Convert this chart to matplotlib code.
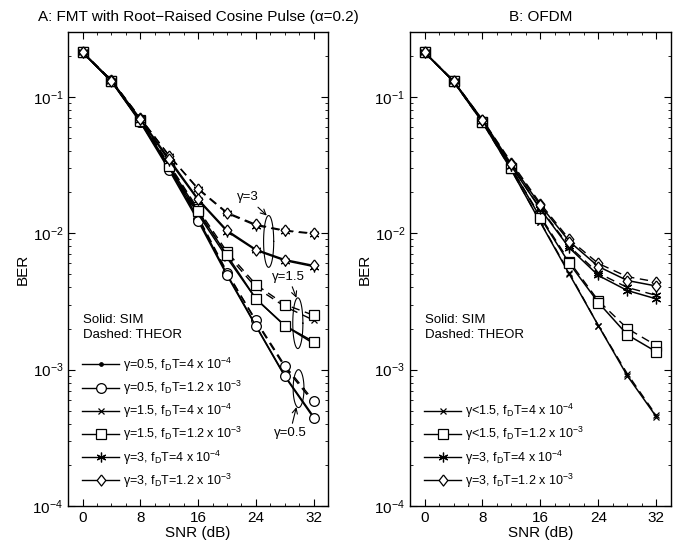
import numpy as np
import matplotlib
matplotlib.use('Agg')
import matplotlib.pyplot as plt
from matplotlib.lines import Line2D
from matplotlib.ticker import MultipleLocator

plt.rcParams['font.family'] = ['Liberation Sans', 'DejaVu Sans']
plt.rcParams['mathtext.fontset'] = 'custom'
plt.rcParams['mathtext.rm'] = 'Liberation Sans'
plt.rcParams['mathtext.it'] = 'Liberation Sans:italic'

snr = [0, 4, 8, 12, 16, 20, 24, 28, 32]

# A: FMT  (sim = solid, thr = dashed)
fmt_g05_a_sim = [0.213, 0.130, 0.066, 0.030, 0.0128, 0.0050, 0.00210, 0.00090, 0.00045]
fmt_g05_a_thr = [0.213, 0.131, 0.067, 0.031, 0.0132, 0.0052, 0.00225, 0.00104, 0.00057]
fmt_g05_b_sim = [0.213, 0.130, 0.065, 0.029, 0.0123, 0.0049, 0.00208, 0.00089, 0.00044]
fmt_g05_b_thr = [0.213, 0.131, 0.066, 0.030, 0.0128, 0.0051, 0.00230, 0.00107, 0.00059]
fmt_g15_a_sim = [0.213, 0.131, 0.066, 0.030, 0.0138, 0.0066, 0.0033, 0.0021, 0.00155]
fmt_g15_a_thr = [0.213, 0.131, 0.067, 0.031, 0.0142, 0.0070, 0.0040, 0.0029, 0.0023]
fmt_g15_b_sim = [0.213, 0.131, 0.067, 0.031, 0.0145, 0.0069, 0.0033, 0.0021, 0.0016]
fmt_g15_b_thr = [0.213, 0.132, 0.068, 0.032, 0.0150, 0.0073, 0.0042, 0.0030, 0.0025]
fmt_g3_a_sim = [0.213, 0.131, 0.068, 0.034, 0.0175, 0.0103, 0.0075, 0.0063, 0.0057]
fmt_g3_a_thr = [0.213, 0.132, 0.070, 0.037, 0.0210, 0.0140, 0.0114, 0.0104, 0.0099]
fmt_g3_b_sim = [0.213, 0.132, 0.069, 0.035, 0.0178, 0.0105, 0.0076, 0.0064, 0.0058]
fmt_g3_b_thr = [0.213, 0.133, 0.070, 0.037, 0.0213, 0.0142, 0.0116, 0.0105, 0.0100]

# B: OFDM
ofdm_g15_a_sim = [0.213, 0.130, 0.065, 0.029, 0.0120, 0.0050, 0.0021, 0.00090, 0.00045]
ofdm_g15_a_thr = [0.213, 0.130, 0.065, 0.029, 0.0121, 0.0051, 0.0021, 0.00093, 0.00046]
ofdm_g15_b_sim = [0.213, 0.130, 0.066, 0.030, 0.0130, 0.0060, 0.0031, 0.0018, 0.00135]
ofdm_g15_b_thr = [0.213, 0.130, 0.066, 0.030, 0.0133, 0.0062, 0.0032, 0.0020, 0.0015]
ofdm_g3_a_sim = [0.213, 0.131, 0.067, 0.031, 0.0150, 0.0078, 0.0049, 0.0038, 0.0033]
ofdm_g3_a_thr = [0.213, 0.131, 0.067, 0.031, 0.0152, 0.0080, 0.0051, 0.0040, 0.0035]
ofdm_g3_b_sim = [0.213, 0.131, 0.068, 0.032, 0.0160, 0.0087, 0.0057, 0.0045, 0.0041]
ofdm_g3_b_thr = [0.213, 0.132, 0.068, 0.033, 0.0165, 0.0090, 0.0060, 0.0048, 0.0044]

labels_a = ['\u03b3=0.5, f$_\\mathregular{D}$T=4 x 10$^{-4}$',
            '\u03b3=0.5, f$_\\mathregular{D}$T=1.2 x 10$^{-3}$',
            '\u03b3=1.5, f$_\\mathregular{D}$T=4 x 10$^{-4}$',
            '\u03b3=1.5, f$_\\mathregular{D}$T=1.2 x 10$^{-3}$',
            '\u03b3=3, f$_\\mathregular{D}$T=4 x 10$^{-4}$',
            '\u03b3=3, f$_\\mathregular{D}$T=1.2 x 10$^{-3}$']
labels_b = ['\u03b3<1.5, f$_\\mathregular{D}$T=4 x 10$^{-4}$',
            '\u03b3<1.5, f$_\\mathregular{D}$T=1.2 x 10$^{-3}$',
            '\u03b3=3, f$_\\mathregular{D}$T=4 x 10$^{-4}$',
            '\u03b3=3, f$_\\mathregular{D}$T=1.2 x 10$^{-3}$']

ASTER = (6, 2, 0)
DIAM = [(0, 1), (0.78, 0), (0, -1), (-0.78, 0), (0, 1)]
mk = {'.': 5, 'o': 7, 'x': 5, 's': 6.5, ASTER: 7, 'diam': 8}


def mstyle(m):
    key = 'diam' if isinstance(m, list) else m
    is_open = key in ('o', 's', 'diam')
    return dict(marker=m, ms=mk[key], mfc='white' if is_open else 'k', mec='k', mew=0.9)


def draw(ax, sims, thrs, markers):
    for s, t, m in zip(sims, thrs, markers):
        ax.plot(snr, t, color='k', lw=1.0, dashes=(6, 4), **mstyle(m))
        ax.plot(snr, s, '-', color='k', lw=1.1, **mstyle(m))


def style(ax, title):
    ax.set_yscale('log')
    ax.set_xlim(-2, 34)
    ax.set_ylim(1e-4, 0.3)
    ax.set_xticks([0, 8, 16, 24, 32])
    ax.xaxis.set_minor_locator(MultipleLocator(2))
    ax.tick_params(which='both', direction='in', top=True, right=True, labelsize=11)
    ax.tick_params(which='major', length=5)
    ax.tick_params(which='minor', length=2.5)
    ax.set_xlabel('SNR (dB)', fontsize=11, labelpad=1)
    ax.set_ylabel('BER', fontsize=11, labelpad=2)
    ax.set_title(title, fontsize=11, pad=8)
    for sp in ax.spines.values():
        sp.set_linewidth(1.0)
    ax.text(0, 0.00232, 'Solid: SIM', fontsize=9.5, va='center')
    ax.text(0, 0.00178, 'Dashed: THEOR', fontsize=9.5, va='center')


def ellipse(ax, cx, rx, cly, ry):
    t = np.linspace(0, 2 * np.pi, 120)
    ax.plot(cx + rx * np.cos(t), 10 ** (cly + ry * np.sin(t)), color='k', lw=0.8)


def legend(ax, markers, labels):
    handles = [Line2D([], [], color='k', lw=1.0, **mstyle(m)) for m in markers]
    ax.legend(handles, labels, loc='lower left', bbox_to_anchor=(0.01, 0.01),
              frameon=False, fontsize=9, handlelength=3.0, handletextpad=0.3,
              labelspacing=0.4, borderaxespad=0.5)


fig = plt.figure(figsize=(6.88, 5.51), dpi=100)
axA = fig.add_axes([0.099, 0.082, 0.378, 0.860])
axB = fig.add_axes([0.596, 0.082, 0.379, 0.860])

markers_a = ['.', 'o', 'x', 's', ASTER, DIAM]
draw(axA, [fmt_g05_a_sim, fmt_g05_b_sim, fmt_g15_a_sim, fmt_g15_b_sim, fmt_g3_a_sim, fmt_g3_b_sim],
     [fmt_g05_a_thr, fmt_g05_b_thr, fmt_g15_a_thr, fmt_g15_b_thr, fmt_g3_a_thr, fmt_g3_b_thr],
     markers_a)
style(axA, 'A: FMT with Root\u2212Raised Cosine Pulse (\u03b1=0.2)')

markers_b = ['x', 's', ASTER, DIAM]
draw(axB, [ofdm_g15_a_sim, ofdm_g15_b_sim, ofdm_g3_a_sim, ofdm_g3_b_sim],
     [ofdm_g15_a_thr, ofdm_g15_b_thr, ofdm_g3_a_thr, ofdm_g3_b_thr], markers_b)
style(axB, 'B: OFDM')

legend(axA, markers_a, labels_a)
legend(axB, markers_b, labels_b)

# annotations in panel A
ellipse(axA, 25.76, 0.7, -2.06, 0.19)
ellipse(axA, 29.8, 0.7, -2.66, 0.186)
ellipse(axA, 29.9, 0.75, -3.14, 0.139)
arw = dict(arrowstyle='->', lw=0.8, color='k', shrinkA=1, shrinkB=0)
axA.annotate('\u03b3=3', xy=(25.5, 0.0135), xytext=(22.85, 0.0183),
             ha='center', va='center', fontsize=9.5, arrowprops=arw)
axA.annotate('\u03b3=1.5', xy=(29.6, 0.00336), xytext=(28.5, 0.0048),
             ha='center', va='center', fontsize=9.5, arrowprops=arw)
axA.annotate('\u03b3=0.5', xy=(29.6, 0.00053), xytext=(28.7, 0.00034),
             ha='center', va='center', fontsize=9.5, arrowprops=arw)

fig.savefig('out.png', dpi=100)
